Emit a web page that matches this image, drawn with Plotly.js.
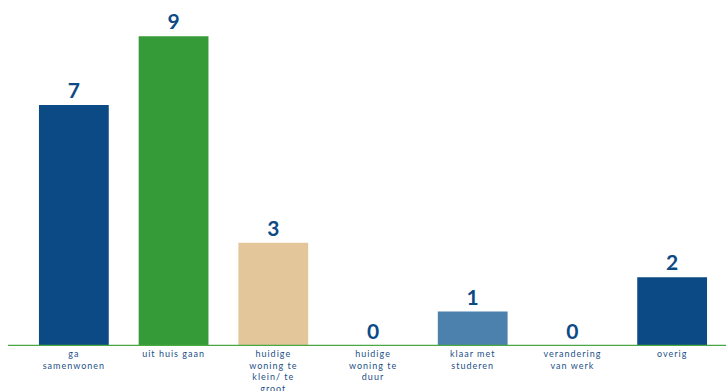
<!DOCTYPE html>
<html>
<head>
<meta charset="utf-8">
<script src="https://cdn.plot.ly/plotly-3.0.1.min.js"></script>
<style>
html,body{margin:0;padding:0;background:#fff;}
#chart{width:726px;height:391px;}
#chart .xtick text{letter-spacing:1px;}
</style>
</head>
<body>
<div id="chart"></div>
<script>
const categories = [
  "ga<br>samenwonen",
  "uit huis gaan",
  "huidige<br>woning te<br>klein/ te<br>groot",
  "huidige<br>woning te<br>duur",
  "klaar met<br>studeren",
  "verandering<br>van werk",
  "overig"
];
const values = [7, 9, 3, 0, 1, 0, 2];
const barColors = ["#0c4a86", "#359b39", "#e4c69b", "#0c4a86", "#4c81ae", "#0c4a86", "#0c4a86"];

const trace = {
  type: "bar",
  x: categories,
  y: values,
  marker: {color: barColors},
  width: 0.7,
  text: values.map(String),
  textposition: "outside",
  cliponaxis: false,
  textfont: {family: "Lato, 'Noto Sans', sans-serif", size: 21, color: "#0c4a86", weight: 700},
  hoverinfo: "none"
};

const layout = {
  width: 726,
  height: 391,
  margin: {l: 24, r: 4, t: 0, b: 45},
  paper_bgcolor: "#ffffff",
  plot_bgcolor: "#ffffff",
  showlegend: false,
  bargap: 0.3,
  xaxis: {
    showgrid: false,
    zeroline: false,
    showline: false,
    ticks: "",
    tickangle: 0,
    ticklabelstandoff: 1,
    tickfont: {family: "Lato, 'Noto Sans', sans-serif", size: 9, color: "#1d4f88"},
    automargin: false
  },
  yaxis: {
    range: [0, 10.05],
    showgrid: false,
    zeroline: false,
    showline: false,
    showticklabels: false,
    ticks: ""
  },
  shapes: [{
    type: "line", xref: "paper", yref: "y",
    x0: -0.023, x1: 1.01, y0: 0, y1: 0,
    line: {color: "#4aa843", width: 2.5}
  }]
};

Plotly.newPlot("chart", [trace], layout, {staticPlot: true, displayModeBar: false});
</script>
</body>
</html>
